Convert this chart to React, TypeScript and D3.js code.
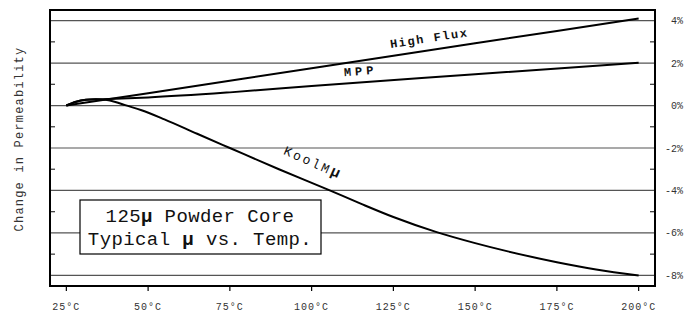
import React, { useEffect, useRef } from 'react'
import * as d3 from 'd3'

// axis ticks
const xTicks = [25, 50, 75, 100, 125, 150, 175, 200]
const yTicks = [4, 2, 0, -2, -4, -6, -8]
const yMinor = [3, 1, -1, -3, -5, -7]

// curves (temp in C, change in %)
const highFluxTemp = [25, 50, 100, 150, 200]
const highFluxVal = [0, 0.58, 1.76, 2.93, 4.1]

const mppTemp = [25, 28, 31, 35, 40, 50, 75, 100, 150, 200]
const mppVal = [0, 0.18, 0.27, 0.3, 0.32, 0.38, 0.62, 0.92, 1.47, 2.02]

const koolTemp = [25, 28, 31, 34, 37, 40, 43, 48, 55, 65, 75, 90, 105, 115, 125, 138, 150, 160, 175, 187, 200]
const koolVal = [0, 0.18, 0.27, 0.3, 0.27, 0.17, 0.02, -0.22, -0.65, -1.33, -2.0, -3.0, -3.96, -4.62, -5.25, -5.95, -6.48, -6.87, -7.38, -7.72, -8.0]

const FONT = "'Liberation Mono', 'Courier New', monospace"

export default function App() {
  const ref = useRef<SVGSVGElement>(null)

  useEffect(() => {
    const svg = d3.select(ref.current)
    svg.selectAll('*').remove()

    const left = 50, right = 655, top = 10, bottom = 286
    const x = d3.scaleLinear().domain([20, 205]).range([left, right])
    const y = d3.scaleLinear().domain([-8.5, 4.5]).range([bottom, top])

    // grid lines at the even values
    svg.append('g').selectAll('line')
      .data(yTicks)
      .join('line')
      .attr('x1', left).attr('x2', right)
      .attr('y1', d => y(d)).attr('y2', d => y(d))
      .attr('stroke', '#555').attr('stroke-width', 1.2)

    // minor ticks, inward on both sides
    const minor = svg.append('g')
    minor.selectAll('line.l').data(yMinor).join('line').attr('class', 'l')
      .attr('x1', left).attr('x2', left + 5)
      .attr('y1', d => y(d)).attr('y2', d => y(d))
      .attr('stroke', '#333').attr('stroke-width', 1.2)
    minor.selectAll('line.r').data(yMinor).join('line').attr('class', 'r')
      .attr('x1', right - 5).attr('x2', right)
      .attr('y1', d => y(d)).attr('y2', d => y(d))
      .attr('stroke', '#333').attr('stroke-width', 1.2)

    const line = d3.line<[number, number]>()
      .x(d => x(d[0]))
      .y(d => y(d[1]))
      .curve(d3.curveMonotoneX)

    const series = [
      highFluxTemp.map((t, i) => [t, highFluxVal[i]] as [number, number]),
      mppTemp.map((t, i) => [t, mppVal[i]] as [number, number]),
      koolTemp.map((t, i) => [t, koolVal[i]] as [number, number])
    ]
    svg.append('g').selectAll('path')
      .data(series)
      .join('path')
      .attr('d', d => line(d))
      .attr('fill', 'none')
      .attr('stroke', '#000')
      .attr('stroke-width', 2)

    // curve labels
    const lab = (tx: number, vy: number, rot: number) =>
      svg.append('text')
        .attr('transform', 'translate(' + x(tx) + ',' + y(vy) + ') rotate(' + rot + ')')
        .attr('text-anchor', 'middle')
        .attr('dominant-baseline', 'central')
        .style('font-family', FONT)
        .style('font-size', '12px')
        .attr('fill', '#111')

    lab(136, 3.13, -8.7).style('font-weight', 'bold').style('letter-spacing', '1.6px').text('High Flux')
    lab(115, 1.58, -4.3).style('font-weight', 'bold').style('letter-spacing', '4px').text('MPP')
    const k = lab(100.4, -2.7, 24).style('font-size', '13px').style('letter-spacing', '2.4px')
    k.append('tspan').text('KoolM')
    k.append('tspan').style('font-weight', 'bold').style('font-size', '15px').text('μ')

    // legend box
    svg.append('rect')
      .attr('x', 80).attr('y', 200).attr('width', 241).attr('height', 54)
      .attr('fill', '#fff').attr('stroke', '#000').attr('stroke-width', 1.2)
    const t1 = svg.append('text')
      .attr('x', 200).attr('y', 222).attr('text-anchor', 'middle')
      .style('font-family', FONT).style('font-size', '19px').style('letter-spacing', '0.4px')
      .attr('fill', '#111')
    t1.append('tspan').text('125')
    t1.append('tspan').style('font-weight', 'bold').text('μ')
    t1.append('tspan').text(' Powder Core')
    const t2 = svg.append('text')
      .attr('x', 200).attr('y', 245).attr('text-anchor', 'middle')
      .style('font-family', FONT).style('font-size', '19px').style('letter-spacing', '0.4px')
      .attr('fill', '#111')
    t2.append('tspan').text('Typical ')
    t2.append('tspan').style('font-weight', 'bold').text('μ')
    t2.append('tspan').text(' vs. Temp.')

    // frame
    svg.append('rect')
      .attr('x', left).attr('y', top).attr('width', right - left).attr('height', bottom - top)
      .attr('fill', 'none').attr('stroke', '#000').attr('stroke-width', 2)

    // x ticks and labels
    svg.append('g').selectAll('line')
      .data(xTicks)
      .join('line')
      .attr('x1', d => x(d)).attr('x2', d => x(d))
      .attr('y1', bottom).attr('y2', bottom + 5)
      .attr('stroke', '#000').attr('stroke-width', 1.2)
    svg.append('g').selectAll('text')
      .data(xTicks)
      .join('text')
      .attr('x', d => x(d)).attr('y', 310)
      .attr('text-anchor', 'middle')
      .style('font-family', FONT).style('font-size', '10px').style('letter-spacing', '1px')
      .attr('fill', '#333')
      .text(d => d + '°C')

    // right axis labels
    svg.append('g').selectAll('text')
      .data(yTicks)
      .join('text')
      .attr('x', 683).attr('y', d => y(d))
      .attr('dy', '0.35em')
      .attr('text-anchor', 'end')
      .style('font-family', FONT).style('font-size', '10px')
      .attr('fill', '#333')
      .text(d => d + '%')

    // y title
    svg.append('text')
      .attr('transform', 'translate(20,139) rotate(-90)')
      .attr('text-anchor', 'middle')
      .attr('dominant-baseline', 'central')
      .style('font-family', FONT).style('font-size', '12px').style('letter-spacing', '1.2px')
      .attr('fill', '#333')
      .text('Change in Permeability')
  }, [])

  return (
    <svg ref={ref} width={694} height={316}
      style={{ position: 'absolute', left: 0, top: 0, background: '#fff' }} />
  )
}
